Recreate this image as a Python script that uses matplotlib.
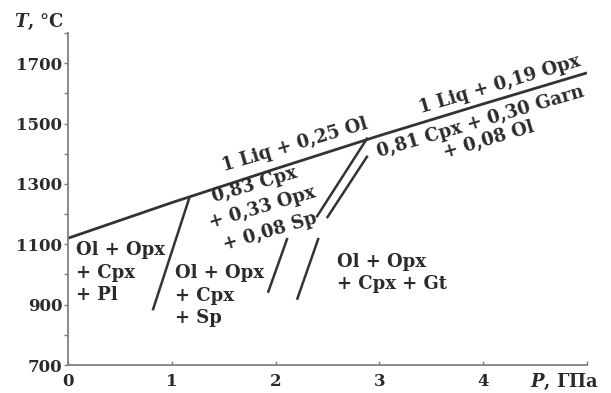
import matplotlib
matplotlib.use("Agg")
import matplotlib.pyplot as plt
from matplotlib.ticker import MultipleLocator

# Solidus of the peridotite (P in GPa, T in °C)
solidus_p = [0.0, 1.0, 2.0, 3.0, 4.0, 5.0]
solidus_t = [1120, 1238, 1350, 1460, 1565, 1668]

# Plagioclase / spinel peridotite boundary
pl_sp_p = [0.82, 1.17]
pl_sp_t = [885, 1255]

# Spinel / garnet peridotite boundaries (each drawn as two segments with a gap)
sp_gt_left_low_p = [1.93, 2.11]
sp_gt_left_low_t = [943, 1117]
sp_gt_left_high_p = [2.40, 2.88]
sp_gt_left_high_t = [1193, 1450]
sp_gt_right_low_p = [2.21, 2.41]
sp_gt_right_low_t = [920, 1117]
sp_gt_right_high_p = [2.50, 2.88]
sp_gt_right_high_t = [1190, 1390]

x_ticks = [0, 1, 2, 3, 4, 5]
x_tick_labels = ["0", "1", "2", "3", "4", ""]
y_ticks = [700, 900, 1100, 1300, 1500, 1700]

FONT = "DejaVu Serif"
LINE_C = "#333333"
AXIS_C = "#808080"
TXT_C = "#2b2b2b"

plt.rcParams["font.family"] = [FONT]
plt.rcParams["font.weight"] = "bold"
plt.rcParams["mathtext.fontset"] = "dejavuserif"

fig = plt.figure(figsize=(6.11, 3.93), dpi=100)
ax = fig.add_axes([68 / 611, 1 - 365 / 393, 519 / 611, 332 / 393])
ax.set_xlim(0, 5)
ax.set_ylim(700, 1800)

for s in ("top", "right"):
    ax.spines[s].set_visible(False)
for s in ("left", "bottom"):
    ax.spines[s].set_color(AXIS_C)
    ax.spines[s].set_linewidth(1.3)

ax.set_xticks(x_ticks)
ax.set_xticklabels(x_tick_labels)
ax.set_yticks(y_ticks)
ax.yaxis.set_minor_locator(MultipleLocator(100))
ax.tick_params(axis="x", direction="in", length=3, width=1, color=AXIS_C,
               labelsize=12, labelcolor=TXT_C, pad=6)
ax.tick_params(axis="y", which="major", direction="out", length=3, width=1,
               color=AXIS_C, labelsize=12, labelcolor=TXT_C, pad=1)
ax.tick_params(axis="y", which="minor", direction="out", length=3, width=1,
               color=AXIS_C)
for lab in ax.get_xticklabels() + ax.get_yticklabels():
    lab.set_fontweight("bold")

lw = 1.8
ax.plot(solidus_p, solidus_t, color=LINE_C, lw=2.0, solid_capstyle="butt")
ax.plot(pl_sp_p, pl_sp_t, color=LINE_C, lw=lw)
for px, ty in [(sp_gt_left_low_p, sp_gt_left_low_t),
               (sp_gt_left_high_p, sp_gt_left_high_t),
               (sp_gt_right_low_p, sp_gt_right_low_t),
               (sp_gt_right_high_p, sp_gt_right_high_t)]:
    ax.plot(px, ty, color=LINE_C, lw=lw)

fs = 13
rot = 16.5
kw = dict(fontsize=fs, color=TXT_C, fontweight="bold")

# Reaction labels along the solidus
ax.text(2.19, 1429, "1 Liq + 0,25 Ol", rotation=rot, ha="center", va="center", **kw)
ax.text(1.80, 1296, "0,83 Cpx", rotation=rot, ha="center", va="center", **kw)
ax.text(1.87, 1220, "+ 0,33 Opx", rotation=rot, ha="center", va="center", **kw)
ax.text(1.95, 1141, "+ 0,08 Sp", rotation=rot, ha="center", va="center", **kw)
ax.text(4.16, 1628, "1 Liq + 0,19 Opx", rotation=rot, ha="center", va="center", **kw)
ax.text(3.97, 1505, "0,81 Cpx + 0,30 Garn", rotation=rot, ha="center", va="center", **kw)
ax.text(4.05, 1445, "+ 0,08 Ol", rotation=rot, ha="center", va="center", **kw)

# Subsolidus assemblages
ax.text(0.08, 1005, "Ol + Opx\n+ Cpx\n+ Pl", ha="left", va="center",
        linespacing=1.32, **kw)
ax.text(1.03, 929, "Ol + Opx\n+ Cpx\n+ Sp", ha="left", va="center",
        linespacing=1.32, **kw)
ax.text(2.59, 1005, "Ol + Opx\n+ Cpx + Gt", ha="left", va="center",
        linespacing=1.32, **kw)

# Axis titles
fig.text(39 / 611, 1 - 22 / 393, r"$\mathbfit{T}$, °C", ha="center", va="center",
         **kw)
fig.text(565 / 611, 1 - 382 / 393, r"$\mathbfit{P}$, ГПа", ha="center", va="center",
         **kw)

fig.savefig("out.png", dpi=100)
